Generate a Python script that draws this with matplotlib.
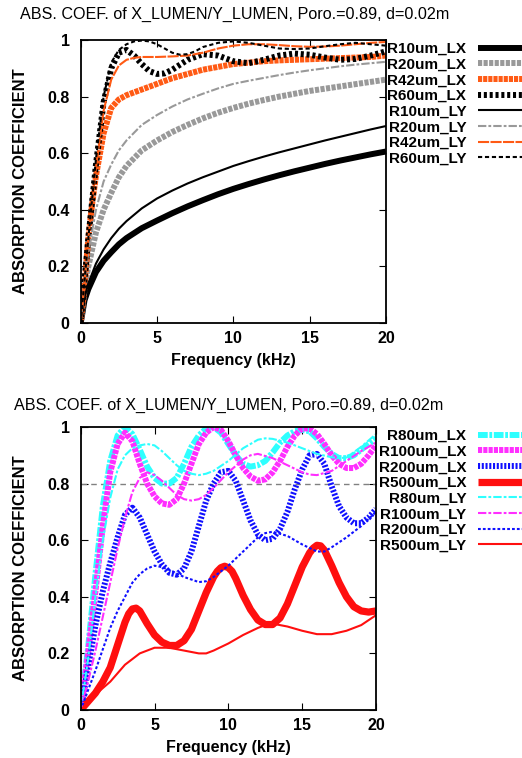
import matplotlib
matplotlib.use("Agg")
import matplotlib.pyplot as plt

plt.rcParams['font.family'] = ['Liberation Sans', 'DejaVu Sans']
plt.rcParams['lines.scale_dashes'] = False

# ---------------- top panel data ----------------
f_top = [0, 0.25, 0.5, 1, 1.5, 2, 2.5, 3, 4, 5, 6, 7, 8, 9, 10, 11, 12, 13, 14, 15, 16, 17, 18, 19, 20]
r10_lx = [0, 0.08, 0.12, 0.18, 0.22, 0.25, 0.278, 0.30, 0.335, 0.362, 0.388, 0.412, 0.434, 0.455, 0.474,
          0.491, 0.507, 0.522, 0.536, 0.549, 0.562, 0.574, 0.585, 0.596, 0.606]
r10_ly = [0, 0.09, 0.14, 0.21, 0.26, 0.30, 0.333, 0.36, 0.405, 0.44, 0.468, 0.493, 0.515, 0.535, 0.555,
          0.572, 0.588, 0.603, 0.617, 0.631, 0.645, 0.658, 0.671, 0.684, 0.696]
r20_lx = [0, 0.12, 0.20, 0.32, 0.40, 0.46, 0.515, 0.555, 0.61, 0.645, 0.675, 0.70, 0.723, 0.743, 0.76,
          0.775, 0.788, 0.80, 0.81, 0.82, 0.828, 0.836, 0.844, 0.852, 0.86]
r20_ly = [0, 0.15, 0.25, 0.40, 0.50, 0.56, 0.61, 0.645, 0.70, 0.735, 0.765, 0.79, 0.81, 0.829, 0.845,
          0.856, 0.866, 0.876, 0.885, 0.893, 0.90, 0.907, 0.913, 0.918, 0.923]
f_r42_lx = [0, 0.25, 0.5, 0.75, 1, 1.5, 2, 2.5, 3, 4, 5, 6, 7, 8, 9, 10, 11, 12, 13, 14, 15, 16, 17, 18, 19, 20]
r42_lx = [0, 0.13, 0.30, 0.42, 0.52, 0.67, 0.76, 0.79, 0.805, 0.825, 0.845, 0.865, 0.88, 0.895, 0.905,
          0.915, 0.92, 0.925, 0.928, 0.93, 0.932, 0.934, 0.936, 0.938, 0.94, 0.945]
f_r42_ly = [0, 0.25, 0.5, 1, 1.5, 2, 2.5, 3, 3.5, 4, 5, 6, 7, 8, 9, 10, 11, 12, 13, 14, 15, 16, 17, 18, 19, 20]
r42_ly = [0, 0.14, 0.30, 0.55, 0.75, 0.86, 0.91, 0.93, 0.937, 0.94, 0.94, 0.942, 0.945, 0.955, 0.97,
          0.98, 0.985, 0.985, 0.982, 0.978, 0.976, 0.977, 0.98, 0.985, 0.99, 0.993]
f_r60_lx = [0, 0.5, 1, 1.5, 2, 2.5, 3, 3.5, 4, 4.5, 5, 5.5, 6, 7, 8, 9, 10, 11, 12, 13, 14, 15, 16, 17, 18, 19, 20]
r60_lx = [0, 0.30, 0.56, 0.78, 0.90, 0.955, 0.965, 0.945, 0.915, 0.89, 0.88, 0.882, 0.895, 0.93, 0.95,
          0.945, 0.925, 0.918, 0.93, 0.945, 0.952, 0.948, 0.938, 0.93, 0.933, 0.945, 0.96]
f_r60_ly = [0, 0.5, 1, 1.5, 2, 2.5, 3, 3.5, 4, 4.5, 5, 5.5, 6, 6.5, 7, 7.5, 8, 9, 10, 11, 12, 13, 14, 15,
            16, 17, 18, 19, 20]
r60_ly = [0, 0.30, 0.58, 0.80, 0.92, 0.965, 0.985, 0.995, 0.998, 0.995, 0.985, 0.97, 0.955, 0.948, 0.95,
          0.96, 0.975, 0.99, 0.995, 0.99, 0.98, 0.97, 0.968, 0.97, 0.978, 0.985, 0.99, 0.985, 0.98]

# ---------------- bottom panel data ----------------
f_half = [0, 0.5, 1, 1.5, 2, 2.5, 3, 3.5, 4, 4.5, 5, 5.5, 6, 6.5, 7, 7.5, 8, 8.5, 9, 9.5, 10, 10.5, 11,
          11.5, 12, 12.5, 13, 13.5, 14, 14.5, 15, 15.5, 16, 16.5, 17, 17.5, 18, 18.5, 19, 19.5, 20]
r80_lx = [0, 0.22, 0.48, 0.72, 0.88, 0.97, 1.0, 0.975, 0.92, 0.86, 0.82, 0.80, 0.80, 0.82, 0.87, 0.93,
          0.97, 0.995, 1.0, 0.98, 0.94, 0.90, 0.87, 0.86, 0.865, 0.88, 0.91, 0.945, 0.97, 0.985, 0.99,
          0.985, 0.96, 0.93, 0.905, 0.89, 0.89, 0.90, 0.92, 0.94, 0.96]
r100_lx = [0, 0.20, 0.42, 0.65, 0.84, 0.94, 0.98, 0.95, 0.87, 0.80, 0.755, 0.73, 0.725, 0.745, 0.80,
           0.87, 0.94, 0.98, 1.0, 0.99, 0.95, 0.90, 0.855, 0.825, 0.81, 0.815, 0.84, 0.88, 0.93, 0.97,
           0.995, 0.995, 0.975, 0.94, 0.90, 0.87, 0.855, 0.855, 0.87, 0.90, 0.935]
r200_lx = [0, 0.15, 0.30, 0.42, 0.52, 0.61, 0.69, 0.715, 0.68, 0.62, 0.56, 0.515, 0.485, 0.478, 0.50,
           0.56, 0.65, 0.74, 0.80, 0.84, 0.845, 0.81, 0.74, 0.67, 0.62, 0.60, 0.605, 0.64, 0.70, 0.78,
           0.85, 0.90, 0.905, 0.87, 0.79, 0.72, 0.68, 0.66, 0.66, 0.68, 0.71]
f_r500_lx = [0, 0.5, 1, 1.5, 2, 2.5, 2.75, 3, 3.25, 3.5, 3.75, 4, 4.5, 5, 5.5, 6, 6.5, 7, 7.5, 8, 8.5, 9,
             9.25, 9.5, 9.75, 10, 10.25, 10.5, 11, 11.5, 12, 12.5, 13, 13.5, 14, 14.5, 15, 15.5, 15.75,
             16, 16.25, 16.5, 17, 17.5, 18, 18.5, 19, 19.5, 20]
r500_lx = [0, 0.03, 0.06, 0.10, 0.15, 0.23, 0.27, 0.31, 0.34, 0.357, 0.36, 0.35, 0.305, 0.265, 0.24,
           0.228, 0.228, 0.245, 0.285, 0.35, 0.415, 0.47, 0.49, 0.503, 0.508, 0.503, 0.49, 0.465, 0.405,
           0.355, 0.318, 0.302, 0.302, 0.325, 0.375, 0.44, 0.505, 0.555, 0.572, 0.582, 0.58, 0.565,
           0.51, 0.45, 0.40, 0.365, 0.35, 0.346, 0.35]
f_r80_ly = [0, 0.5, 1, 1.5, 2, 2.5, 3, 3.5, 4, 4.5, 5, 5.5, 6, 6.5, 7, 7.5, 8, 8.5, 9, 10, 11, 12, 12.5,
            13, 14, 15, 16, 17, 17.5, 18, 19, 20]
r80_ly = [0, 0.18, 0.40, 0.60, 0.75, 0.85, 0.90, 0.925, 0.935, 0.94, 0.935, 0.915, 0.89, 0.865, 0.845,
          0.835, 0.83, 0.835, 0.845, 0.88, 0.925, 0.955, 0.96, 0.958, 0.945, 0.925, 0.905, 0.893, 0.89,
          0.892, 0.93, 0.975]
f_r100_ly = [0, 0.5, 1, 1.5, 2, 2.5, 3, 3.5, 4, 4.5, 5, 5.5, 6, 6.5, 7, 7.5, 8, 8.5, 9, 10, 11, 11.5,
             12, 13, 14, 15, 15.5, 16, 17, 18, 19, 20]
r100_ly = [0, 0.10, 0.21, 0.33, 0.45, 0.57, 0.68, 0.77, 0.82, 0.84, 0.83, 0.81, 0.785, 0.76, 0.745,
           0.74, 0.745, 0.76, 0.785, 0.84, 0.885, 0.90, 0.905, 0.89, 0.865, 0.84, 0.832, 0.83, 0.845,
           0.88, 0.915, 0.945]
f_r200_ly = [0, 1, 2, 2.5, 3, 3.5, 4, 4.5, 5, 5.5, 6, 7, 8, 8.5, 9, 10, 11, 12, 12.5, 13, 14, 15, 16,
             16.5, 17, 18, 19, 20]
r200_ly = [0, 0.14, 0.29, 0.35, 0.40, 0.45, 0.48, 0.50, 0.51, 0.505, 0.495, 0.47, 0.452, 0.455, 0.47,
           0.51, 0.56, 0.61, 0.625, 0.63, 0.615, 0.585, 0.56, 0.56, 0.575, 0.61, 0.65, 0.70]
f_r500_ly = [0, 1, 2, 3, 4, 4.5, 5, 6, 7, 8, 8.5, 9, 10, 11, 12, 12.5, 13, 14, 15, 16, 17, 18, 19, 20]
r500_ly = [0, 0.055, 0.10, 0.16, 0.20, 0.21, 0.22, 0.22, 0.21, 0.20, 0.20, 0.21, 0.235, 0.265, 0.29,
           0.30, 0.305, 0.295, 0.28, 0.268, 0.268, 0.28, 0.30, 0.335]

title_text = "ABS. COEF. of X_LUMEN/Y_LUMEN, Poro.=0.89, d=0.02m"
xlabel_text = "Frequency (kHz)"
ylabel_text = "ABSORPTION COEFFICIENT"
x_ticks = [0, 5, 10, 15, 20]
y_ticks = [0, 0.2, 0.4, 0.6, 0.8, 1.0]
y_tick_labels = ["0", "0.2", "0.4", "0.6", "0.8", "1"]
ref_level = 0.8

ORANGE = '#ff5a14'
GRAY = '#999999'
CYAN = '#2effff'
MAGENTA = '#ff2eff'
BLUE = '#1010ff'
RED = '#ff0f0f'

W, H = 522, 758
fig = plt.figure(figsize=(W / 100, H / 100), dpi=100)

THICK = 4.3
THIN = 1.5

top_series = [
    (f_top, r10_lx, 'R10um_LX', 'black', THICK, '-'),
    (f_top, r20_lx, 'R20um_LX', GRAY, THICK, (0, (3, 1))),
    (f_r42_lx, r42_lx, 'R42um_LX', ORANGE, THICK, (0, (3, 0.7))),
    (f_r60_lx, r60_lx, 'R60um_LX', 'black', THICK, (0, (2.2, 2))),
    (f_top, r10_ly, 'R10um_LY', 'black', THIN, '-'),
    (f_top, r20_ly, 'R20um_LY', GRAY, THIN, (0, (6, 1.5, 2, 1.5))),
    (f_r42_ly, r42_ly, 'R42um_LY', ORANGE, THIN, (0, (8, 1))),
    (f_r60_ly, r60_ly, 'R60um_LY', 'black', THIN, (0, (3, 2))),
]

bottom_series = [
    (f_half, r80_lx, 'R80um_LX', CYAN, THICK, (0, (7, 1.2, 2, 1.2))),
    (f_half, r100_lx, 'R100um_LX', MAGENTA, THICK, (0, (3, 0.8))),
    (f_half, r200_lx, 'R200um_LX', BLUE, THICK, (0, (1.5, 1.2))),
    (f_r500_lx, r500_lx, 'R500um_LX', RED, 5.2, '-'),
    (f_r80_ly, r80_ly, 'R80um_LY', CYAN, THIN, (0, (6, 1.5, 2, 1.5))),
    (f_r100_ly, r100_ly, 'R100um_LY', MAGENTA, THIN, (0, (6, 1.5, 2, 1.5))),
    (f_r200_ly, r200_ly, 'R200um_LY', BLUE, THIN, (0, (2, 1.5))),
    (f_r500_ly, r500_ly, 'R500um_LY', RED, THIN, '-'),
]


def px_rect(l, t, r, b):
    return [l / W, 1 - b / H, (r - l) / W, (b - t) / H]


def style_axes(ax):
    ax.set_xlim(0, 20)
    ax.set_ylim(0, 1)
    ax.set_xticks(x_ticks)
    ax.set_xticklabels([str(v) for v in x_ticks])
    ax.set_yticks(y_ticks)
    ax.set_yticklabels(y_tick_labels)
    ax.tick_params(direction='in', length=5, width=0.8, top=True, right=True,
                   labelsize=11.5, colors='black', pad=8)
    for lab in ax.get_xticklabels() + ax.get_yticklabels():
        lab.set_fontweight('bold')
    ax.tick_params(axis='x', pad=6)
    for sp in ax.spines.values():
        sp.set_linewidth(1.3)
    ax.set_xlabel(xlabel_text, fontsize=11.5, fontweight='bold', labelpad=5)
    ax.set_ylabel(ylabel_text, fontsize=12, fontweight='bold', labelpad=14)


def add_legend(ax, top_px):
    h, l = ax.get_legend_handles_labels()
    fig.legend(h, l, loc='upper right', bbox_to_anchor=(1.0, 1 - top_px / H),
               frameon=False, markerfirst=False, prop={'weight': 'bold', 'size': 11},
               handlelength=2.9, handletextpad=0.75, labelspacing=0.11,
               borderpad=0, borderaxespad=0)


# top panel
ax1 = fig.add_axes(px_rect(80.7, 40, 386, 323))
for x, y, lab, c, lw, ls in top_series:
    ax1.plot(x, y, color=c, lw=lw, ls=ls, label=lab, solid_capstyle='butt', dash_capstyle='butt')
style_axes(ax1)
fig.text(20 / W, 1 - 14 / H, title_text, fontsize=11.6, ha='left', va='center')
add_legend(ax1, 42)

# bottom panel
ax2 = fig.add_axes(px_rect(80.7, 427, 376, 710))
ax2.axhline(ref_level, color='#808080', lw=1.0, ls=(0, (4, 3)))
for x, y, lab, c, lw, ls in bottom_series:
    ax2.plot(x, y, color=c, lw=lw, ls=ls, label=lab, solid_capstyle='butt', dash_capstyle='butt')
style_axes(ax2)
fig.text(14 / W, 1 - 405 / H, title_text, fontsize=11.6, ha='left', va='center')
add_legend(ax2, 429)

fig.savefig('out.png', dpi=100)
